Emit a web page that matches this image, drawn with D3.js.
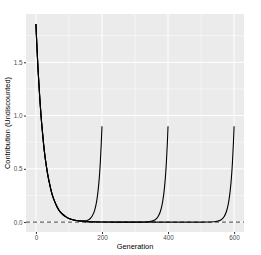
<!DOCTYPE html>
<html lang="en">
<head>
  <meta charset="UTF-8">
  <title>Contribution by Generation</title>
  <script src="https://d3js.org/d3.v7.min.js"></script>
  <style>
    body { margin: 0; background: white; font-family: "Liberation Sans", Arial, Helvetica, sans-serif; }
    .tick text { fill: #4d4d4d; font-size: 6.3px; }
    .axis-title { fill: black; font-size: 7.4px; }
  </style>
</head>
<body>
<svg id="svg"></svg>
<script>
// horizons of the three runs and the values
const horizons = [200, 400, 600];

const gen200 = [0, 3, 6, 9, 12, 16, 20, 25, 30, 35, 40, 50, 60, 70, 80, 90, 100, 115, 130, 145, 160, 170, 178, 184, 188, 192, 195, 198, 200];
const val200 = [1.86, 1.65, 1.46, 1.30, 1.15, 0.98, 0.84, 0.68, 0.56, 0.46, 0.38, 0.25, 0.17, 0.11, 0.076, 0.051, 0.034, 0.02, 0.013, 0.011, 0.023, 0.054, 0.113, 0.197, 0.288, 0.421, 0.56, 0.744, 0.9];

const gen400 = [0, 3, 6, 9, 12, 16, 20, 25, 30, 35, 40, 50, 60, 70, 80, 90, 100, 115, 130, 150, 200, 250, 300, 330, 345, 360, 370, 378, 384, 388, 392, 395, 398, 400];
const val400 = [1.86, 1.65, 1.46, 1.30, 1.15, 0.98, 0.84, 0.68, 0.56, 0.46, 0.38, 0.25, 0.17, 0.11, 0.076, 0.051, 0.034, 0.019, 0.010, 0.0046, 0.0006, 0.0001, 0, 0.0012, 0.005, 0.02, 0.052, 0.111, 0.197, 0.288, 0.421, 0.56, 0.744, 0.9];

const gen600 = [0, 3, 6, 9, 12, 16, 20, 25, 30, 35, 40, 50, 60, 70, 80, 90, 100, 115, 130, 150, 200, 250, 300, 400, 500, 530, 545, 560, 570, 578, 584, 588, 592, 595, 598, 600];
const val600 = [1.86, 1.65, 1.46, 1.30, 1.15, 0.98, 0.84, 0.68, 0.56, 0.46, 0.38, 0.25, 0.17, 0.11, 0.076, 0.051, 0.034, 0.019, 0.010, 0.0046, 0.0006, 0.0001, 0, 0, 0, 0.0012, 0.005, 0.02, 0.052, 0.111, 0.197, 0.288, 0.421, 0.56, 0.744, 0.9];

const xTicks = [0, 200, 400, 600];
const xMinor = [100, 300, 500];
const yTicks = [0, 0.5, 1.0, 1.5];
const yMinor = [0.25, 0.75, 1.25, 1.75];

const series = [
  gen200.map((g, i) => ({ g: g, v: val200[i] })),
  gen400.map((g, i) => ({ g: g, v: val400[i] })),
  gen600.map((g, i) => ({ g: g, v: val600[i] }))
];

const width = 261, height = 255;
const margin = { top: 14, right: 17, bottom: 23, left: 26 };

const svg = d3.select("#svg").attr("width", width).attr("height", height);

// ggplot style 5% expansion
const xmax = d3.max(horizons);
const ymax = d3.max(series.flat(), d => d.v);
const x = d3.scaleLinear().domain([-0.05 * xmax, 1.05 * xmax]).range([margin.left, width - margin.right]);
const y = d3.scaleLinear().domain([-0.05 * ymax, 1.05 * ymax]).range([height - margin.bottom, margin.top]);

// panel
svg.append("rect")
  .attr("x", margin.left).attr("y", margin.top)
  .attr("width", width - margin.left - margin.right)
  .attr("height", height - margin.top - margin.bottom)
  .attr("fill", "#ebebeb");

const grid = svg.append("g").attr("stroke", "white");
grid.selectAll(".vminor").data(xMinor).join("line")
  .attr("x1", d => x(d)).attr("x2", d => x(d))
  .attr("y1", margin.top).attr("y2", height - margin.bottom)
  .attr("stroke-width", 0.5);
grid.selectAll(".hminor").data(yMinor).join("line")
  .attr("y1", d => y(d)).attr("y2", d => y(d))
  .attr("x1", margin.left).attr("x2", width - margin.right)
  .attr("stroke-width", 0.5);
grid.selectAll(".vmajor").data(xTicks).join("line")
  .attr("x1", d => x(d)).attr("x2", d => x(d))
  .attr("y1", margin.top).attr("y2", height - margin.bottom)
  .attr("stroke-width", 1);
grid.selectAll(".hmajor").data(yTicks).join("line")
  .attr("y1", d => y(d)).attr("y2", d => y(d))
  .attr("x1", margin.left).attr("x2", width - margin.right)
  .attr("stroke-width", 1);

// dashed zero line
svg.append("line")
  .attr("x1", margin.left).attr("x2", width - margin.right)
  .attr("y1", y(0)).attr("y2", y(0))
  .attr("stroke", "#666").attr("stroke-width", 1.4)
  .attr("stroke-dasharray", "4,3");

// curves
const line = d3.line().x(d => x(d.g)).y(d => y(d.v)).curve(d3.curveMonotoneX);
svg.selectAll(".run").data(series).join("path")
  .attr("class", "run")
  .attr("d", line)
  .attr("fill", "none")
  .attr("stroke", "black")
  .attr("stroke-width", 1.1);

// axes
const xAxis = svg.append("g")
  .attr("transform", `translate(0,${height - margin.bottom})`)
  .call(d3.axisBottom(x).tickValues(xTicks).tickSize(2).tickPadding(1.5).tickFormat(d3.format("d")));
const yAxis = svg.append("g")
  .attr("transform", `translate(${margin.left},0)`)
  .call(d3.axisLeft(y).tickValues(yTicks).tickSize(2).tickPadding(1.5).tickFormat(d3.format(".1f")));
[xAxis, yAxis].forEach(a => {
  a.select(".domain").remove();
  a.selectAll(".tick line").attr("stroke", "#333");
  a.selectAll(".tick text").attr("font-family", null).attr("font-size", null);
});

svg.append("text").attr("class", "axis-title")
  .attr("x", (margin.left + width - margin.right) / 2).attr("y", 249)
  .attr("text-anchor", "middle")
  .text("Generation");
svg.append("text").attr("class", "axis-title")
  .attr("transform", `translate(10,${(margin.top + height - margin.bottom) / 2}) rotate(-90)`)
  .attr("text-anchor", "middle")
  .text("Contribution (Undiscounted)");
</script>
</body>
</html>
